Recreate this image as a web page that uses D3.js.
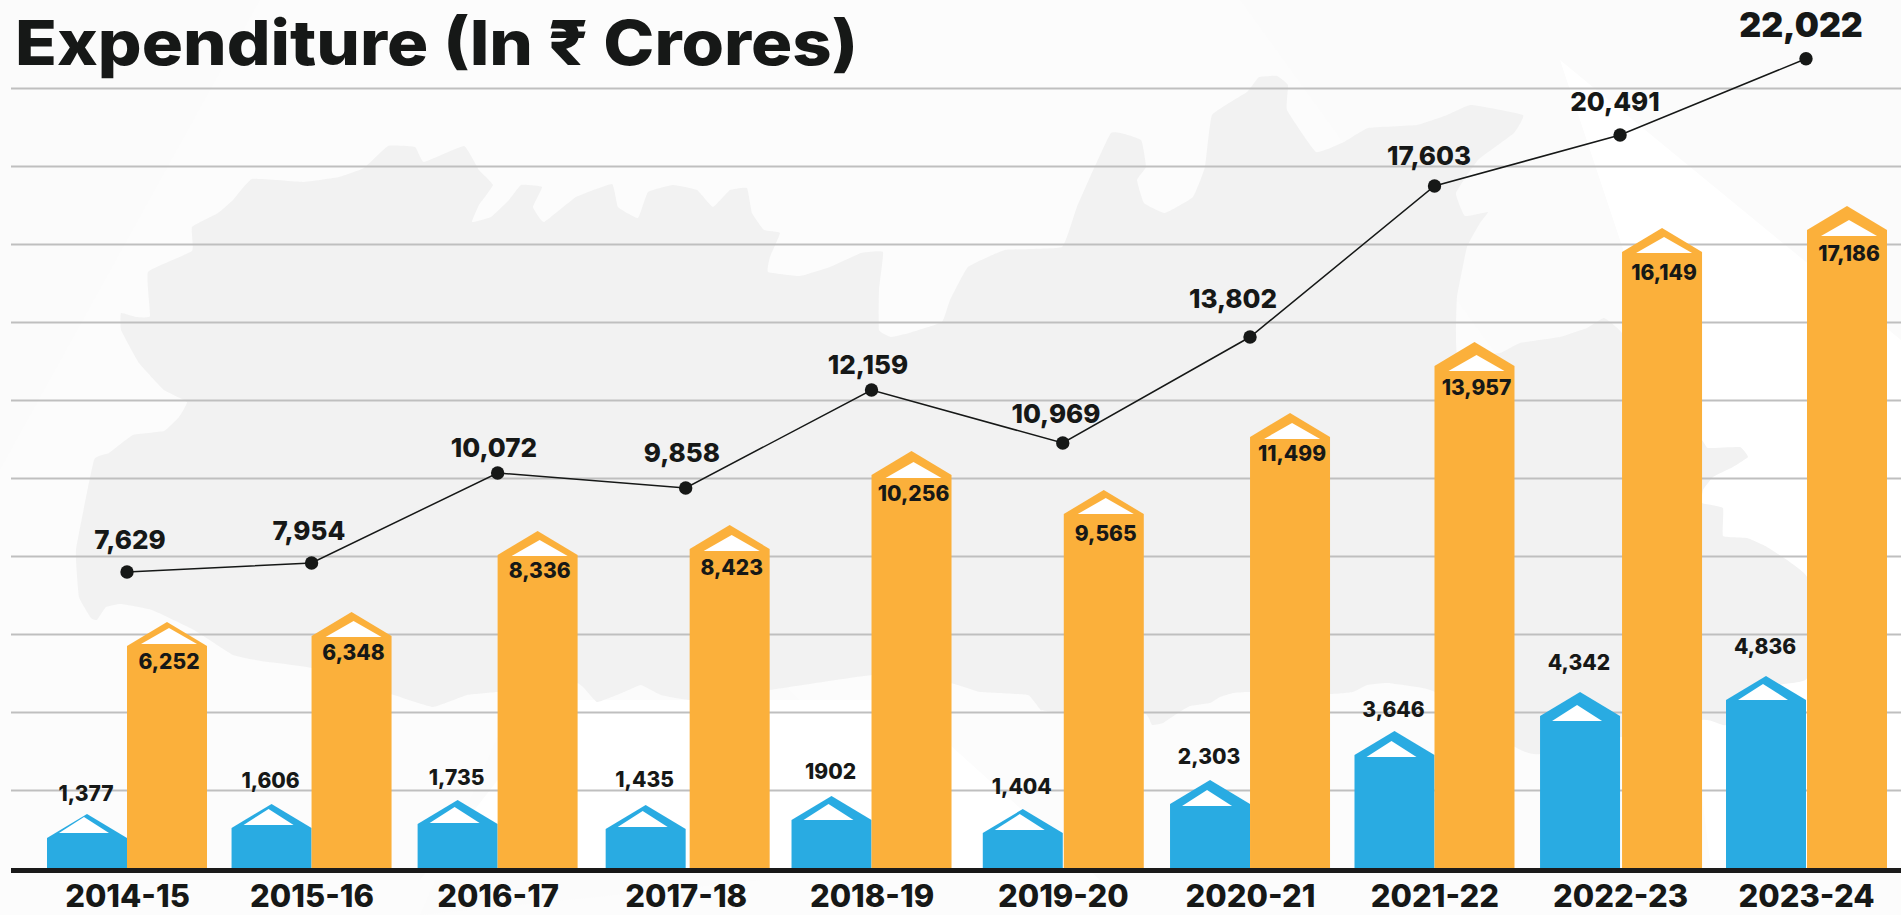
<!DOCTYPE html>
<html>
<head>
<meta charset="utf-8">
<title>Expenditure (In ₹ Crores)</title>
<script src="https://cdnjs.cloudflare.com/ajax/libs/d3/7.8.5/d3.min.js"></script>
<style>
  html, body { margin: 0; padding: 0; background: #fff; overflow: hidden; }
  text { font-family: Inter, "Noto Sans", sans-serif; fill: #161817; }
</style>
</head>
<body>
<div id="chart"></div>
<script>
/* ================== DATA ================== */

const categories = ["2014-15", "2015-16", "2016-17", "2017-18", "2018-19",
  "2019-20", "2020-21", "2021-22", "2022-23", "2023-24"];

// printed labels, as they appear on the graphic
const lineLabels = ["7,629", "7,954", "10,072", "9,858", "12,159",
  "10,969", "13,802", "17,603", "20,491", "22,022"];
const blueLabels = ["1,377", "1,606", "1,735", "1,435", "1902",
  "1,404", "2,303", "3,646", "4,342", "4,836"];
const orangeLabels = ["6,252", "6,348", "8,336", "8,423", "10,256",
  "9,565", "11,499", "13,957", "16,149", "17,186"];

// the graphic is not drawn to scale, so heights are read against its gridlines
const lineValues = [7590, 7821, 10128, 9744, 12256, 10897, 13615, 17487, 18795, 20750];
const blueValues = [769, 1026, 1128, 1000, 1231, 897, 1641, 2897, 3897, 4308];
const orangeValues = [5692, 5949, 8026, 8179, 10077, 9077, 11051, 12872, 15795, 16359];

/* ================== LAYOUT ================== */

const width = 1901;
const height = 915;
const baseline = 868;
const barWidth = 80;
const capHeight = 24;
const blue = "#29abe2";
const orange = "#fbb03b";

// the source was laid out by hand, so nothing sits quite on a regular grid
const groupDx = [0, -2, -2.5, -1, -1.7, 3, 3.7, 1.6, 0.6, 0];
const orangeGap = [0, 0, 0, 4, 0, 1, 0, 0, 2, 1];
const lineLabelDx = [3, -2.6, -3.6, -3.7, -3.5, -6.8, -17, -5.5, -5, -5];
const lineLabelDy = [-32, -32, -26, -35, -26, -30, -39, -31, -33, -34];
const blueLabelDy = [-21, -23, -23, -26, -24, -23, -24, -22, -30, -29];
const orangeLabelDy = [15, 17, 16, 18, 19, 20, 16, 22, 21, 24];
const blueCapDy = [-5, -3, -1, -2, 0, -3, 2, 2, 5, 0];
const orangeCapDy = [-2, 1, 1, 2, 3, 0, 2, 5, 1, 6];

const x = d3.scalePoint().domain(categories).range([127, 1806]);
const y = d3.scaleLinear().domain([0, 20000]).range([baseline, 88]);
const cx = (i) => x(categories[i]) + groupDx[i];

const svg = d3.select("#chart").append("svg")
  .attr("width", width)
  .attr("height", height)
  .style("display", "block");

/* ================== BACKGROUND ================== */

svg.append("rect").attr("width", width).attr("height", height).attr("fill", "#fcfcfc");

svg.append("path")
  .attr("d", "M0 0L260 0L0 470Z M420 915L960 860L600 500Z M1240 0L1901 0L1901 640L1500 360Z")
  .attr("fill", "#fbfbfb");
svg.append("path")
  .attr("d", "M420 880L560 700L900 700L1100 880Z M1560 60L1901 340L1901 860L1710 860L1640 300Z")
  .attr("fill", "#ffffff");

// state outline behind the chart
const outline = [[121,313],[136,317],[150,316],[148,272],[192,251],[192,227],[218,213],[233,200],
  [252,179],[303,182],[339,177],[364,168],[388,146],[415,147],[424,162],[464,146],[479,170],
  [493,185],[479,205],[472,222],[491,217],[509,200],[521,185],[542,187],[533,207],[544,222],
  [576,197],[612,184],[618,207],[638,218],[648,192],[673,185],[697,190],[713,207],[730,190],
  [747,188],[752,213],[764,230],[780,233],[770,257],[768,272],[800,276],[830,267],[861,253],
  [883,252],[879,290],[879,330],[891,337],[909,333],[942,322],[950,300],[968,267],[1005,250],
  [1062,247],[1077,207],[1111,133],[1141,140],[1146,167],[1137,180],[1144,203],[1165,213],
  [1193,197],[1205,167],[1212,115],[1247,92],[1259,77],[1277,76],[1288,85],[1287,110],
  [1316,152],[1344,142],[1368,128],[1417,125],[1447,115],[1471,105],[1523,115],[1514,133],
  [1478,160],[1456,193],[1465,216],[1488,212],[1480,223],[1467,247],[1457,297],[1456,333],
  [1458,357],[1500,353],[1520,343],[1560,337],[1587,328],[1604,318],[1622,333],[1702,440],
  [1708,448],[1740,447],[1748,457],[1733,467],[1713,477],[1703,490],[1702,503],[1723,508],
  [1723,536],[1747,538],[1767,547],[1807,577],[1807,678],[1780,685],[1726,725],[1702,720],
  [1540,754],[1515,747],[1435,692],[1417,687],[1387,683],[1367,685],[1353,692],[1330,694],
  [1250,692],[1233,693],[1220,697],[1210,703],[1190,706],[1178,713],[1163,723],[1152,725],
  [1144,713],[1064,713],[1041,710],[1028,695],[980,692],[950,683],[873,675],[770,690],
  [691,700],[661,695],[641,685],[624,692],[597,702],[577,683],[497,692],[467,695],[433,707],
  [394,695],[312,668],[261,661],[233,655],[194,630],[152,610],[121,604],[106,607],[97,620],
  [91,618],[79,597],[76,550],[94,460],[109,453],[133,435],[164,431],[179,417],[187,402],
  [164,390],[139,363],[121,330]];

svg.append("path")
  .attr("d", d3.line().curve(d3.curveCardinalClosed.tension(0.7))(outline))
  .attr("fill", "#f2f2f2");

/* ================== GRID AND AXIS ================== */

const grid = svg.append("g")
  .attr("transform", "translate(11,0)")
  .call(d3.axisRight(y).tickValues(d3.range(2000, 20001, 2000)).tickSize(width - 11).tickFormat(""));
grid.select(".domain").remove();
grid.selectAll(".tick line").attr("stroke", "#bfbfbf").attr("stroke-width", 2);

const xAxis = svg.append("g")
  .attr("transform", `translate(0,${baseline})`)
  .call(d3.axisBottom(x).tickSize(0).tickPadding(17));
xAxis.select(".domain").remove();
xAxis.selectAll("text")
  .attr("x", (d, i) => groupDx[i])
  .attr("font-size", 31)
  .attr("font-weight", 800)
  .style("font-family", "Inter, sans-serif")
  .style("fill", "#161817");

/* ================== BARS ================== */

function bodyPath(c, top) {
  const l = c - barWidth / 2;
  const r = c + barWidth / 2;
  return `M${l} ${baseline}V${top}L${c} ${top - capHeight}L${r} ${top}V${baseline}Z`;
}

function capPath(c, top, half) {
  return `M${c - half} ${top}L${c} ${top - 16}L${c + half} ${top}Z`;
}

function drawBars(values, color, centre, capDy, capDx, capHalf) {
  const g = svg.append("g");
  g.selectAll("path.body")
    .data(values)
    .join("path")
    .attr("class", "body")
    .attr("fill", color)
    .attr("d", (d, i) => bodyPath(centre(i), y(d)));
  g.selectAll("path.cap")
    .data(values)
    .join("path")
    .attr("class", "cap")
    .attr("fill", "#ffffff")
    .attr("d", (d, i) => capPath(centre(i) + capDx, y(d) + capDy[i], capHalf));
}

const blueCentre = (i) => cx(i) - barWidth / 2;
const orangeCentre = (i) => cx(i) + barWidth / 2 + orangeGap[i];

drawBars(blueValues, blue, blueCentre, blueCapDy, -3, 25);
drawBars(orangeValues, orange, orangeCentre, orangeCapDy, 2, 28);

svg.append("rect")
  .attr("x", 11).attr("y", baseline)
  .attr("width", width - 11).attr("height", 5)
  .attr("fill", "#1a1a1a");

/* ================== LINE ================== */

const lineGen = d3.line()
  .x((d, i) => cx(i))
  .y((d) => y(d));

svg.append("path")
  .attr("d", lineGen(lineValues))
  .attr("fill", "none")
  .attr("stroke", "#161817")
  .attr("stroke-width", 1.5);

svg.selectAll("circle.dot")
  .data(lineValues)
  .join("circle")
  .attr("class", "dot")
  .attr("cx", (d, i) => cx(i))
  .attr("cy", (d) => y(d))
  .attr("r", 6.7)
  .attr("fill", "#161817");

/* ================== LABELS ================== */

svg.selectAll("text.line-label")
  .data(lineLabels)
  .join("text")
  .attr("class", "line-label")
  .attr("x", (d, i) => cx(i) + lineLabelDx[i])
  .attr("y", (d, i) => y(lineValues[i]) + lineLabelDy[i])
  .attr("text-anchor", "middle")
  .attr("dominant-baseline", "central")
  .attr("font-size", (d, i) => (i === lineLabels.length - 1 ? 34 : 26))
  .attr("font-weight", (d, i) => (i === lineLabels.length - 1 ? 900 : 800))
  .text((d) => d);

svg.selectAll("text.blue-label")
  .data(blueLabels)
  .join("text")
  .attr("class", "blue-label")
  .attr("x", (d, i) => blueCentre(i) - 1)
  .attr("y", (d, i) => y(blueValues[i]) - capHeight + blueLabelDy[i])
  .attr("text-anchor", "middle")
  .attr("dominant-baseline", "central")
  .attr("font-size", 21)
  .attr("font-weight", 800)
  .text((d) => d);

svg.selectAll("text.orange-label")
  .data(orangeLabels)
  .join("text")
  .attr("class", "orange-label")
  .attr("x", (d, i) => orangeCentre(i) + 2)
  .attr("y", (d, i) => y(orangeValues[i]) + orangeLabelDy[i])
  .attr("text-anchor", "middle")
  .attr("dominant-baseline", "central")
  .attr("font-size", 21)
  .attr("font-weight", 800)
  .text((d) => d);

// the original face is wider than anything installed, so stretch to its width
svg.append("text")
  .attr("x", 15)
  .attr("y", 65)
  .attr("font-size", 62)
  .attr("font-weight", 800)
  .attr("textLength", 843)
  .attr("lengthAdjust", "spacingAndGlyphs")
  .text("Expenditure (In ₹ Crores)");
</script>
</body>
</html>
